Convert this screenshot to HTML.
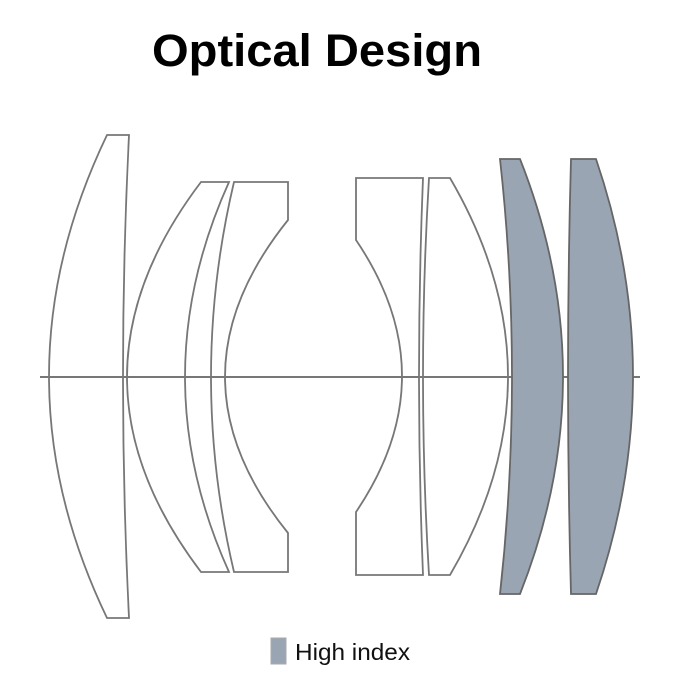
<!DOCTYPE html>
<html><head><meta charset="utf-8"><style>
html,body{margin:0;padding:0;background:#fff;}
svg{display:block;}
</style></head><body>
<svg width="682" height="700" viewBox="0 0 682 700" xmlns="http://www.w3.org/2000/svg">
<text x="152" y="66" font-family="Liberation Sans, sans-serif" font-weight="bold" font-size="45" fill="#000" textLength="330" lengthAdjust="spacingAndGlyphs">Optical Design</text>
<line x1="40" y1="377" x2="640" y2="377" stroke="#777" stroke-width="2"/>
<g fill="none" stroke="#777" stroke-width="1.8" stroke-linejoin="miter">
<path d="M107,135 L129,135 Q117,376.5 129,618 L107,618 Q-9,376.5 107,135 Z"/>
<path d="M201,182 L229,182 Q141,377 229,572 L201,572 Q53,377 201,182 Z"/>
<path d="M234,182 L288,182 L288,220 Q162,377 288,533 L288,572 L234,572 Q188,377 234,182 Z"/>
<path d="M356,178 L423,178 Q415,376.5 423,575 L356,575 L356,512 Q448,376 356,240 Z"/>
<path d="M429,178 L450,178 Q566,376.5 450,575 L429,575 Q417,376.5 429,178 Z"/>
</g>
<g fill="#9aa5b4" stroke="#666" stroke-width="1.8">
<path d="M500,159 L520,159 Q606,376.5 520,594 L500,594 Q524,376.5 500,159 Z"/>
<path d="M571,159 L596,159 Q670,376.5 596,594 L571,594 Q565,376.5 571,159 Z"/>
</g>
<rect x="271" y="638" width="15" height="26" fill="#9aa5b4" stroke="#aaa" stroke-width="1"/>
<text x="295" y="660" font-family="Liberation Sans, sans-serif" font-size="23" fill="#111" textLength="115" lengthAdjust="spacingAndGlyphs">High index</text>
</svg>
</body></html>
